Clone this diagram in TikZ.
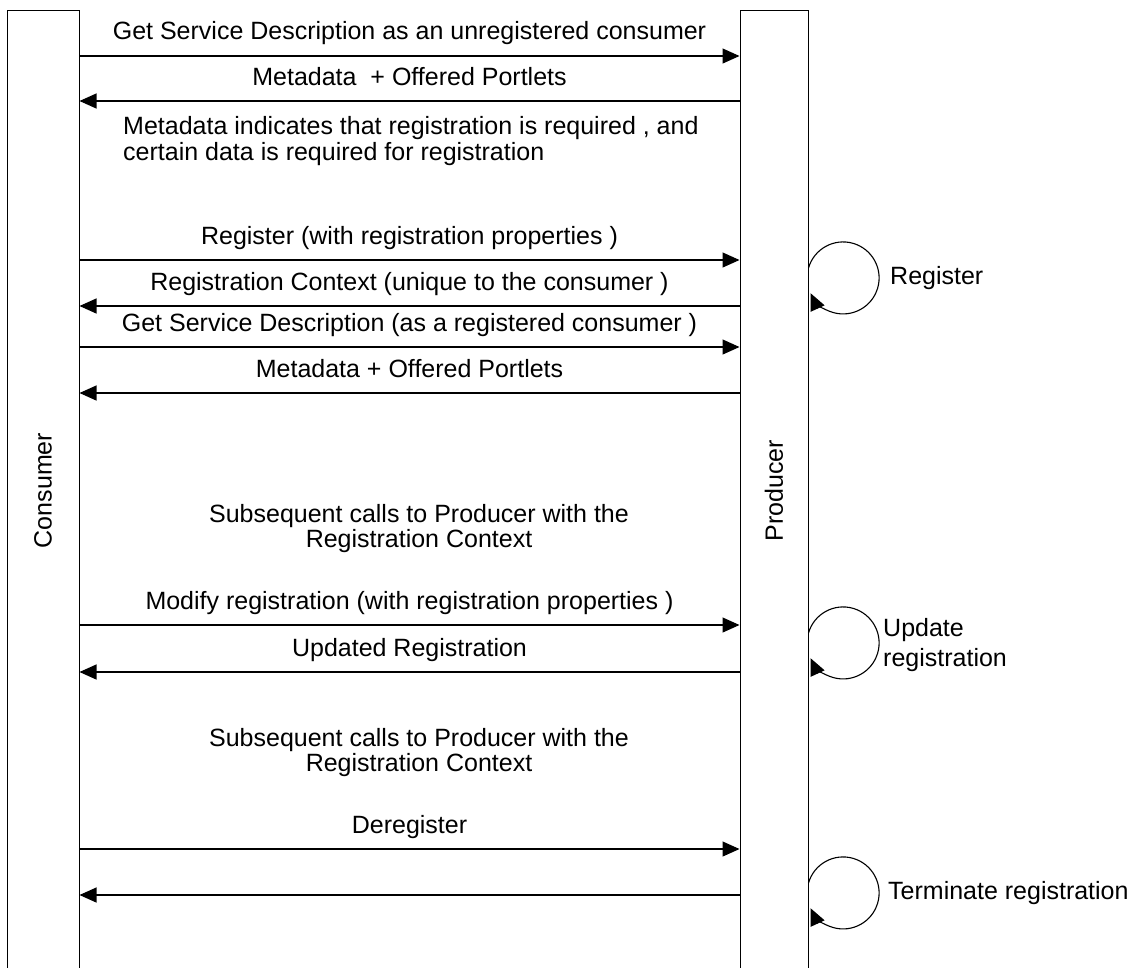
\documentclass[tikz,border=0pt]{standalone}
\usepackage{fontspec}
\setmainfont{Liberation Sans}
\usetikzlibrary{arrows.meta}
\usetikzlibrary{positioning}

\tikzset{
  bar/.style={draw, line width=1pt, minimum height=960pt, anchor=north, inner sep=0pt},
  msg/.style={line width=1.1pt, -{Triangle[length=17pt,width=15pt]}},
  lbl/.style={font=\fontsize{25}{25}\selectfont, inner sep=0pt, text height=18pt, text depth=5pt},
  note/.style={font=\fontsize{25}{25}\selectfont, inner sep=0pt},
}

\begin{document}
\begin{tikzpicture}[x=1pt,y=-1pt]
\useasboundingbox (0,0) rectangle (1131,967);
% the two lifelines
\node[bar, minimum width=72pt] (consumer) at (43,10) {\rotatebox{90}{\fontsize{25}{25}\selectfont Consumer}};
\node[bar, minimum width=68pt] (producer) at (774,10) {\rotatebox{90}{\fontsize{25}{25}\selectfont Producer}};
% messages
\draw[msg] (consumer.east |- 0,56) -- (producer.west |- 0,56) node[lbl, midway, above=11pt] {Get Service Description as an unregistered consumer};
\draw[msg] (producer.west |- 0,101) -- (consumer.east |- 0,101) node[lbl, midway, above=10pt] {Metadata~ + Offered Portlets};
\node[note, anchor=west, align=left] (note1) at (123,141) {Metadata indicates that registration is required , and\\[1pt] certain data is required for registration};
\draw[msg] (consumer.east |- 0,260) -- (producer.west |- 0,260) node[lbl, midway, above=10pt] {Register (with registration properties )};
\draw[msg] (producer.west |- 0,306) -- (consumer.east |- 0,306) node[lbl, midway, above=10pt] {Registration Context (unique to the consumer )};
\draw[msg] (consumer.east |- 0,347) -- (producer.west |- 0,347) node[lbl, midway, above=10pt] {Get Service Description (as a registered consumer )};
\draw[msg] (producer.west |- 0,393) -- (consumer.east |- 0,393) node[lbl, midway, above=10pt] {Metadata + Offered Portlets};
\node[note, align=center] (note2) at (419,529) {Subsequent calls to Producer with the\\ Registration Context};
\draw[msg] (consumer.east |- 0,625) -- (producer.west |- 0,625) node[lbl, midway, above=10pt] {Modify registration (with registration properties )};
\draw[msg] (producer.west |- 0,672) -- (consumer.east |- 0,672) node[lbl, midway, above=10pt] {Updated Registration};
\node[note, align=center] (note3) at (419,753) {Subsequent calls to Producer with the\\ Registration Context};
\draw[msg] (consumer.east |- 0,849) -- (producer.west |- 0,849) node[lbl, midway, above=10pt] {Deregister};
\draw[msg] (producer.west |- 0,895) -- (consumer.east |- 0,895);
% self loops on the producer
\draw[msg] (producer.east |- 0,268) arc[start angle=196, end angle=515, radius=36];
\draw[msg] (producer.east |- 0,633) arc[start angle=196, end angle=515, radius=36];
\draw[msg] (producer.east |- 0,883) arc[start angle=196, end angle=515, radius=36];
\node[lbl, anchor=west] (reg) at (890,278) {Register};
\node[note, anchor=west, align=left] (upd) at (883,645) {Update\\[5pt] registration};
\node[lbl, anchor=west] (term) at (888,893) {Terminate registration};
\end{tikzpicture}
\end{document}
